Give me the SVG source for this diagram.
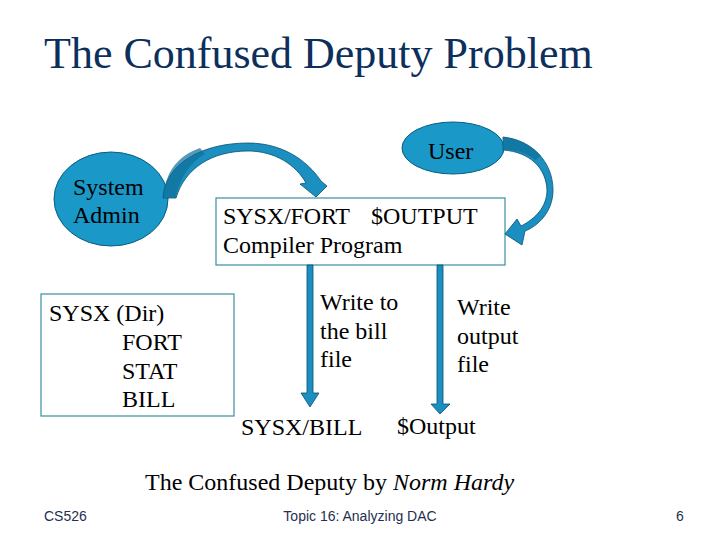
<svg xmlns="http://www.w3.org/2000/svg" width="720" height="540" viewBox="0 0 720 540">
<defs>
<style>
.t{font-family:'Liberation Serif','Times New Roman',Times,serif;fill:#000;font-size:24px}
.title{font-family:'Liberation Serif','Times New Roman',Times,serif;fill:#0d2f5c;font-size:44px}
.foot{font-family:'Liberation Sans',Arial,sans-serif;fill:#1f3050;font-size:14px}
.box{fill:#fff;stroke:#3a8fa0;stroke-width:1.2}
.ell{fill:#1a98c8;stroke:#0a5d80;stroke-width:1}
.arr{fill:#1a8fc0;stroke:#0a4f6e;stroke-width:0.8}
.shade{fill:#0e6f98}
</style>
</defs>
<rect width="720" height="540" fill="#fff"/>
<text class="title" x="44" y="68">The Confused Deputy Problem</text>

<g id="sysadmin">
<ellipse class="ell" cx="111" cy="199" rx="57" ry="47"/>
<text class="t" x="73" y="195">System</text>
<text class="t" x="73" y="223">Admin</text>
</g>

<g id="user">
<ellipse class="ell" cx="453" cy="148" rx="51" ry="26"/>
<text class="t" x="428" y="159">User</text>
</g>

<g id="compiler">
<rect class="box" x="216" y="198" width="289" height="67"/>
<text class="t" x="223" y="224" textLength="127" lengthAdjust="spacing">SYSX/FORT</text>
<text class="t" x="371" y="224">$OUTPUT</text>
<text class="t" x="223" y="253">Compiler Program</text>
</g>

<g id="sysxdir">
<rect class="box" x="41" y="294" width="193" height="122"/>
<text class="t" x="49" y="321">SYSX (Dir)</text>
<text class="t" x="122" y="350">FORT</text>
<text class="t" x="122" y="379">STAT</text>
<text class="t" x="122" y="407">BILL</text>
</g>

<g id="sysxbill">
<text class="t" x="241" y="435">SYSX/BILL</text>
</g>

<g id="output">
<text class="t" x="397" y="434">$Output</text>
</g>

<g id="connectors">
<path class="arr" d="M163,198 C165,163 203,143 248,143 C282,143 307,160 321,181 L327,186 L316,197 L300,184 L306,183 C296,165 275,151 248,151 C212,151 185,168 176,198 Z"/>
<path class="shade" d="M163.5,197.5 C165,170 180,155 200,148 L205,154 C190,162 180,178 175.5,197.5 Z" opacity="0.7"/>
<path class="arr" d="M503,137 C532,140 553,162 553,190 C553,212 538,226 525,231 L522,245 L505,234 L517,219 L521,226 C535,219 547,207 547,190 C546,168 530,152 503,150 Z"/>
<path class="shade" d="M503.5,137.5 C520,139 533,146 541,156 L535,160 C527,153 516,150 503.5,149.5 Z" opacity="0.7"/>
<path class="arr" d="M307,265 L313,265 L313,393 L319,393 L310,407 L301,393 L307,393 Z"/>
<path class="arr" d="M437,265 L443,265 L443,404 L450,404 L440,414 L431,404 L437,404 Z"/>
<text class="t" x="320" y="310">Write to</text>
<text class="t" x="320" y="339">the bill</text>
<text class="t" x="320" y="367">file</text>
<text class="t" x="457" y="315">Write</text>
<text class="t" x="457" y="344">output</text>
<text class="t" x="457" y="372">file</text>
</g>

<text class="t" x="145" y="490">The Confused Deputy by <tspan font-style="italic">Norm Hardy</tspan></text>
<text class="foot" x="44" y="521">CS526</text>
<text class="foot" x="360" y="521" text-anchor="middle">Topic 16: Analyzing DAC</text>
<text class="foot" x="676" y="521">6</text>
</svg>
